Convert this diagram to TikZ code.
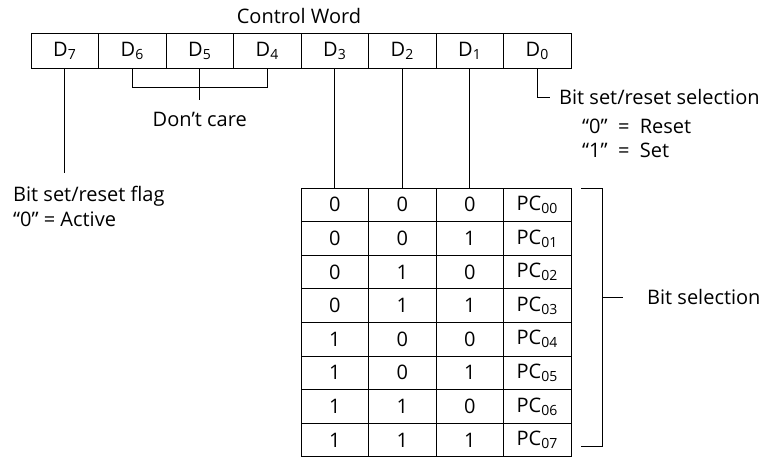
\documentclass[tikz,border=0pt]{standalone}
\usepackage{fontspec}
\setmainfont{Open Sans}
\usetikzlibrary{positioning}
\tikzstyle{bitcell} = [rectangle, minimum width=67.5pt, minimum height=35pt, inner sep=0pt,
outer sep=0pt, text centered, draw=black, line width=0.9pt]
\tikzstyle{tablecell} = [rectangle, minimum width=67.5pt, minimum height=33.6pt, inner sep=0pt,
outer sep=0pt, text centered, draw=black, line width=0.9pt]
\tikzstyle{note} = [align=left, inner sep=0pt]
\tikzstyle{wire} = [line width=0.9pt]

\begin{document}
\begin{tikzpicture}[x=1pt, y=-1pt, node distance=0pt, font=\fontsize{20}{25}\selectfont]
\useasboundingbox (0,0) rectangle (766,457);

% ------------------------- nodes -------------------------

% ----- node: control word
\node(d7)[bitcell] at (64.75,51) {D\textsubscript{7}};
\node(d6)[bitcell, right=of d7] {D\textsubscript{6}};
\node(d5)[bitcell, right=of d6] {D\textsubscript{5}};
\node(d4)[bitcell, right=of d5] {D\textsubscript{4}};
\node(d3)[bitcell, right=of d4] {D\textsubscript{3}};
\node(d2)[bitcell, right=of d3] {D\textsubscript{2}};
\node(d1)[bitcell, right=of d2] {D\textsubscript{1}};
\node(d0)[bitcell, right=of d1] {D\textsubscript{0}};
\node(title) at (299,16) {Control Word};

% ----- node: don't care
\coordinate(carejoin) at (199.75,100);
\node(care)[note, below=12pt of carejoin] {Don't care};

% ----- node: flag
\coordinate(flagjoin) at (64.75,173);
\node(flag)[note, anchor=north west] at (13,186) {Bit set/reset flag\\``0'' = Active};

% ----- node: set/reset selection
\coordinate(selectjoin) at (550,97);
\node(select)[note, anchor=west] at (559,97) {Bit set/reset selection};
\node(reset)[note, anchor=west] at (582,126) {``0''\ \ =\ \ Reset};
\node(set)[note, anchor=west] at (582,150) {``1''\ \ =\ \ Set};

% ----- node: bit table
\foreach \a/\b/\c [count=\r from 0] in {0/0/0,0/0/1,0/1/0,0/1/1,1/0/0,1/0/1,1/1/0,1/1/1} {
  \node(row\r-1)[tablecell] at (334.75,{204.8+33.6*\r}) {\a};
  \node(row\r-2)[tablecell, right=of row\r-1] {\b};
  \node(row\r-3)[tablecell, right=of row\r-2] {\c};
  \node(row\r-4)[tablecell, right=of row\r-3] {PC\textsubscript{0\r}};
}

% ----- node: bit selection
\coordinate(seltop) at ([xshift=10pt]row0-4.north east);
\coordinate(selbot) at ([xshift=10pt, yshift=10pt]row7-4.south east);
\coordinate(selmid) at (602,297);
\coordinate(seltick) at (623,297);
\node(bitsel)[note, anchor=west] at (647,297) {Bit selection};

% ------------------------- connectors -------------------------
\draw[wire] (d7.south) -- (flagjoin);
\draw[wire] (d6.south) -- ++(0,19) -| (d4.south);
\draw[wire] (d5.south) -- (carejoin);
\draw[wire] (d3.south) -- (row0-1.north);
\draw[wire] (d2.south) -- (row0-2.north);
\draw[wire] (d1.south) -- (row0-3.north);
\draw[wire] (d0.south) |- (selectjoin);
\draw[wire] (seltop) -- ++(21,0) |- (selbot);
\draw[wire] (selmid) -- (seltick);

\end{tikzpicture}
\end{document}
